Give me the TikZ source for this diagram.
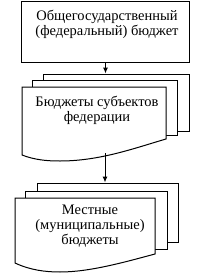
\documentclass[tikz,border=0pt]{standalone}
\usepackage{fontspec}
\setmainfont{Liberation Serif}
\usetikzlibrary{arrows.meta}
\tikzset{
  sheet/.style={draw, fill=white, line width=1bp, inner sep=0pt},
  arr/.style={-{Latex[length=6bp,width=5bp]}, line width=1bp},
  lbl/.style={align=center, inner sep=0pt, font=\fontsize{14.5bp}{15bp}\selectfont}
}
\begin{document}
\begin{tikzpicture}[x=1bp, y=-1bp]
    \useasboundingbox (0,0) rectangle (205,276);

    % federal budget
    \node[sheet, minimum width=167bp, minimum height=61bp] (fed) at (105.5,31.5) {};
    \node[lbl] (fedtext) at (107,24) {Общегосударственный\\(федеральный) бюджет};

    % regional budgets
    \node[sheet, minimum width=145bp, minimum height=57bp] (regback) at (116.5,102.5) {};
    \node[sheet, minimum width=144bp, minimum height=55bp] (regmid) at (105,107.5) {};
    \draw[sheet] (22,87) -- (166,87) -- (166,139)
      .. controls (135,148) and (100,161) .. (60,161)
      .. controls (47,161) and (35,160) .. (22,155) -- cycle;
    \node[lbl] (regtext) at (97,110) {Бюджеты субъектов\\федерации};
    \coordinate (regbot) at (105,153);

    % local budgets
    \node[sheet, minimum width=140bp, minimum height=59bp] (munback) at (108,212.5) {};
    \node[sheet, minimum width=141bp, minimum height=58bp] (munmid) at (96.5,220) {};
    \draw[sheet] (15,198) -- (155,198) -- (155,254)
      .. controls (125,262) and (90,272) .. (60,272)
      .. controls (45,272) and (30,270) .. (15,263) -- cycle;
    \node[lbl] (muntext) at (90,226.5) {Местные\\(муниципальные)\\бюджеты};

    % arrows
    \draw[arr] (fed.south) -- (fed.south |- regback.north);
    \draw[arr] (regbot) -- (regbot |- munback.north);
\end{tikzpicture}
\end{document}
